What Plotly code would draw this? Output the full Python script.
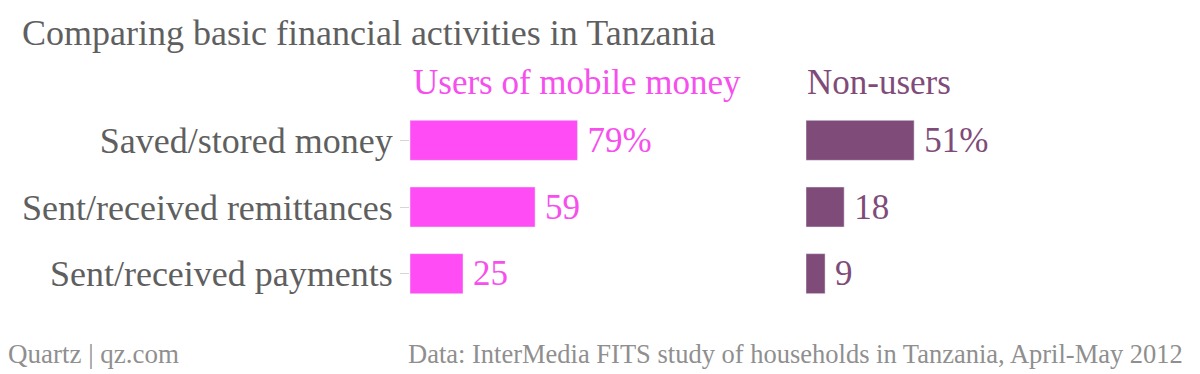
import plotly.graph_objects as go

categories = ["Saved/stored money", "Sent/received remittances", "Sent/received payments"]
users = [79, 59, 25]
non_users = [51, 18, 9]
users_labels = ["79%", "59", "25"]
non_users_labels = ["51%", "18", "9"]

PINK = "#ff4cf5"
PINK_TXT = "#f64fee"
PURPLE = "#7f4c7a"
GRAY = "#5f5f5f"
FOOT = "#8f8f8f"
FONT = "Liberation Serif"

# page body has an 8px margin; figure fills the rest of the 1200x374 window
OFF = 8
W, H = 1200 - OFF, 374 - OFF
TOP, BOT = 106.5 - OFF, 307.5 - OFF   # plot area in figure pixels


def px_x(x):
    return (x - OFF) / W


def px_y(y):
    return (BOT - (y - OFF)) / (BOT - TOP)


sp = "\u2009"
fig = go.Figure()
fig.add_trace(go.Bar(y=categories, x=users, orientation="h", marker_color=PINK,
                     text=[sp + t for t in users_labels], textposition="outside", cliponaxis=False,
                     textfont=dict(color=PINK_TXT, size=35, family=FONT),
                     width=0.6, xaxis="x", yaxis="y", hoverinfo="skip"))
fig.add_trace(go.Bar(y=categories, x=non_users, orientation="h", marker_color=PURPLE,
                     text=[sp + t for t in non_users_labels], textposition="outside", cliponaxis=False,
                     textfont=dict(color=PURPLE, size=35, family=FONT),
                     width=0.6, xaxis="x2", yaxis="y", hoverinfo="skip"))

scale = 2.12
d1 = [px_x(410), px_x(710)]
d2 = [px_x(806), px_x(1106)]
fig.update_layout(
    width=W, height=H,
    margin=dict(l=0, r=0, t=TOP, b=H - BOT),
    paper_bgcolor="white", plot_bgcolor="white",
    showlegend=False,
    font=dict(family=FONT, color=GRAY),
    xaxis=dict(domain=d1, range=[0, 300 / scale], visible=False),
    xaxis2=dict(domain=d2, range=[0, 300 / scale], visible=False, anchor="y"),
    yaxis=dict(categoryorder="array", categoryarray=categories[::-1],
               ticks="outside", ticklen=9, tickcolor="#d6d6d6", tickwidth=1,
               showline=False, showgrid=False, zeroline=False,
               tickfont=dict(size=36, color=GRAY, family=FONT)),
)

fig.add_annotation(text="Comparing basic financial activities in Tanzania", xref="paper", yref="paper",
                   x=px_x(20), y=px_y(32), xanchor="left", yanchor="middle", showarrow=False,
                   font=dict(size=36, color=GRAY, family=FONT))
fig.add_annotation(text="Users of mobile money", xref="paper", yref="paper",
                   x=px_x(411), y=px_y(82), xanchor="left", yanchor="middle", showarrow=False,
                   font=dict(size=35, color=PINK_TXT, family=FONT))
fig.add_annotation(text="Non-users", xref="paper", yref="paper",
                   x=px_x(805), y=px_y(82), xanchor="left", yanchor="middle", showarrow=False,
                   font=dict(size=35, color=PURPLE, family=FONT))
fig.add_annotation(text="Quartz | qz.com", xref="paper", yref="paper",
                   x=px_x(6), y=px_y(355), xanchor="left", yanchor="middle", showarrow=False,
                   font=dict(size=27, color=FOOT, family=FONT))
fig.add_annotation(text="Data: InterMedia FITS study of households in Tanzania, April-May 2012",
                   xref="paper", yref="paper",
                   x=px_x(1185), y=px_y(355), xanchor="right", yanchor="middle", showarrow=False,
                   font=dict(size=26.5, color=FOOT, family=FONT))

fig.write_html("out.html")
